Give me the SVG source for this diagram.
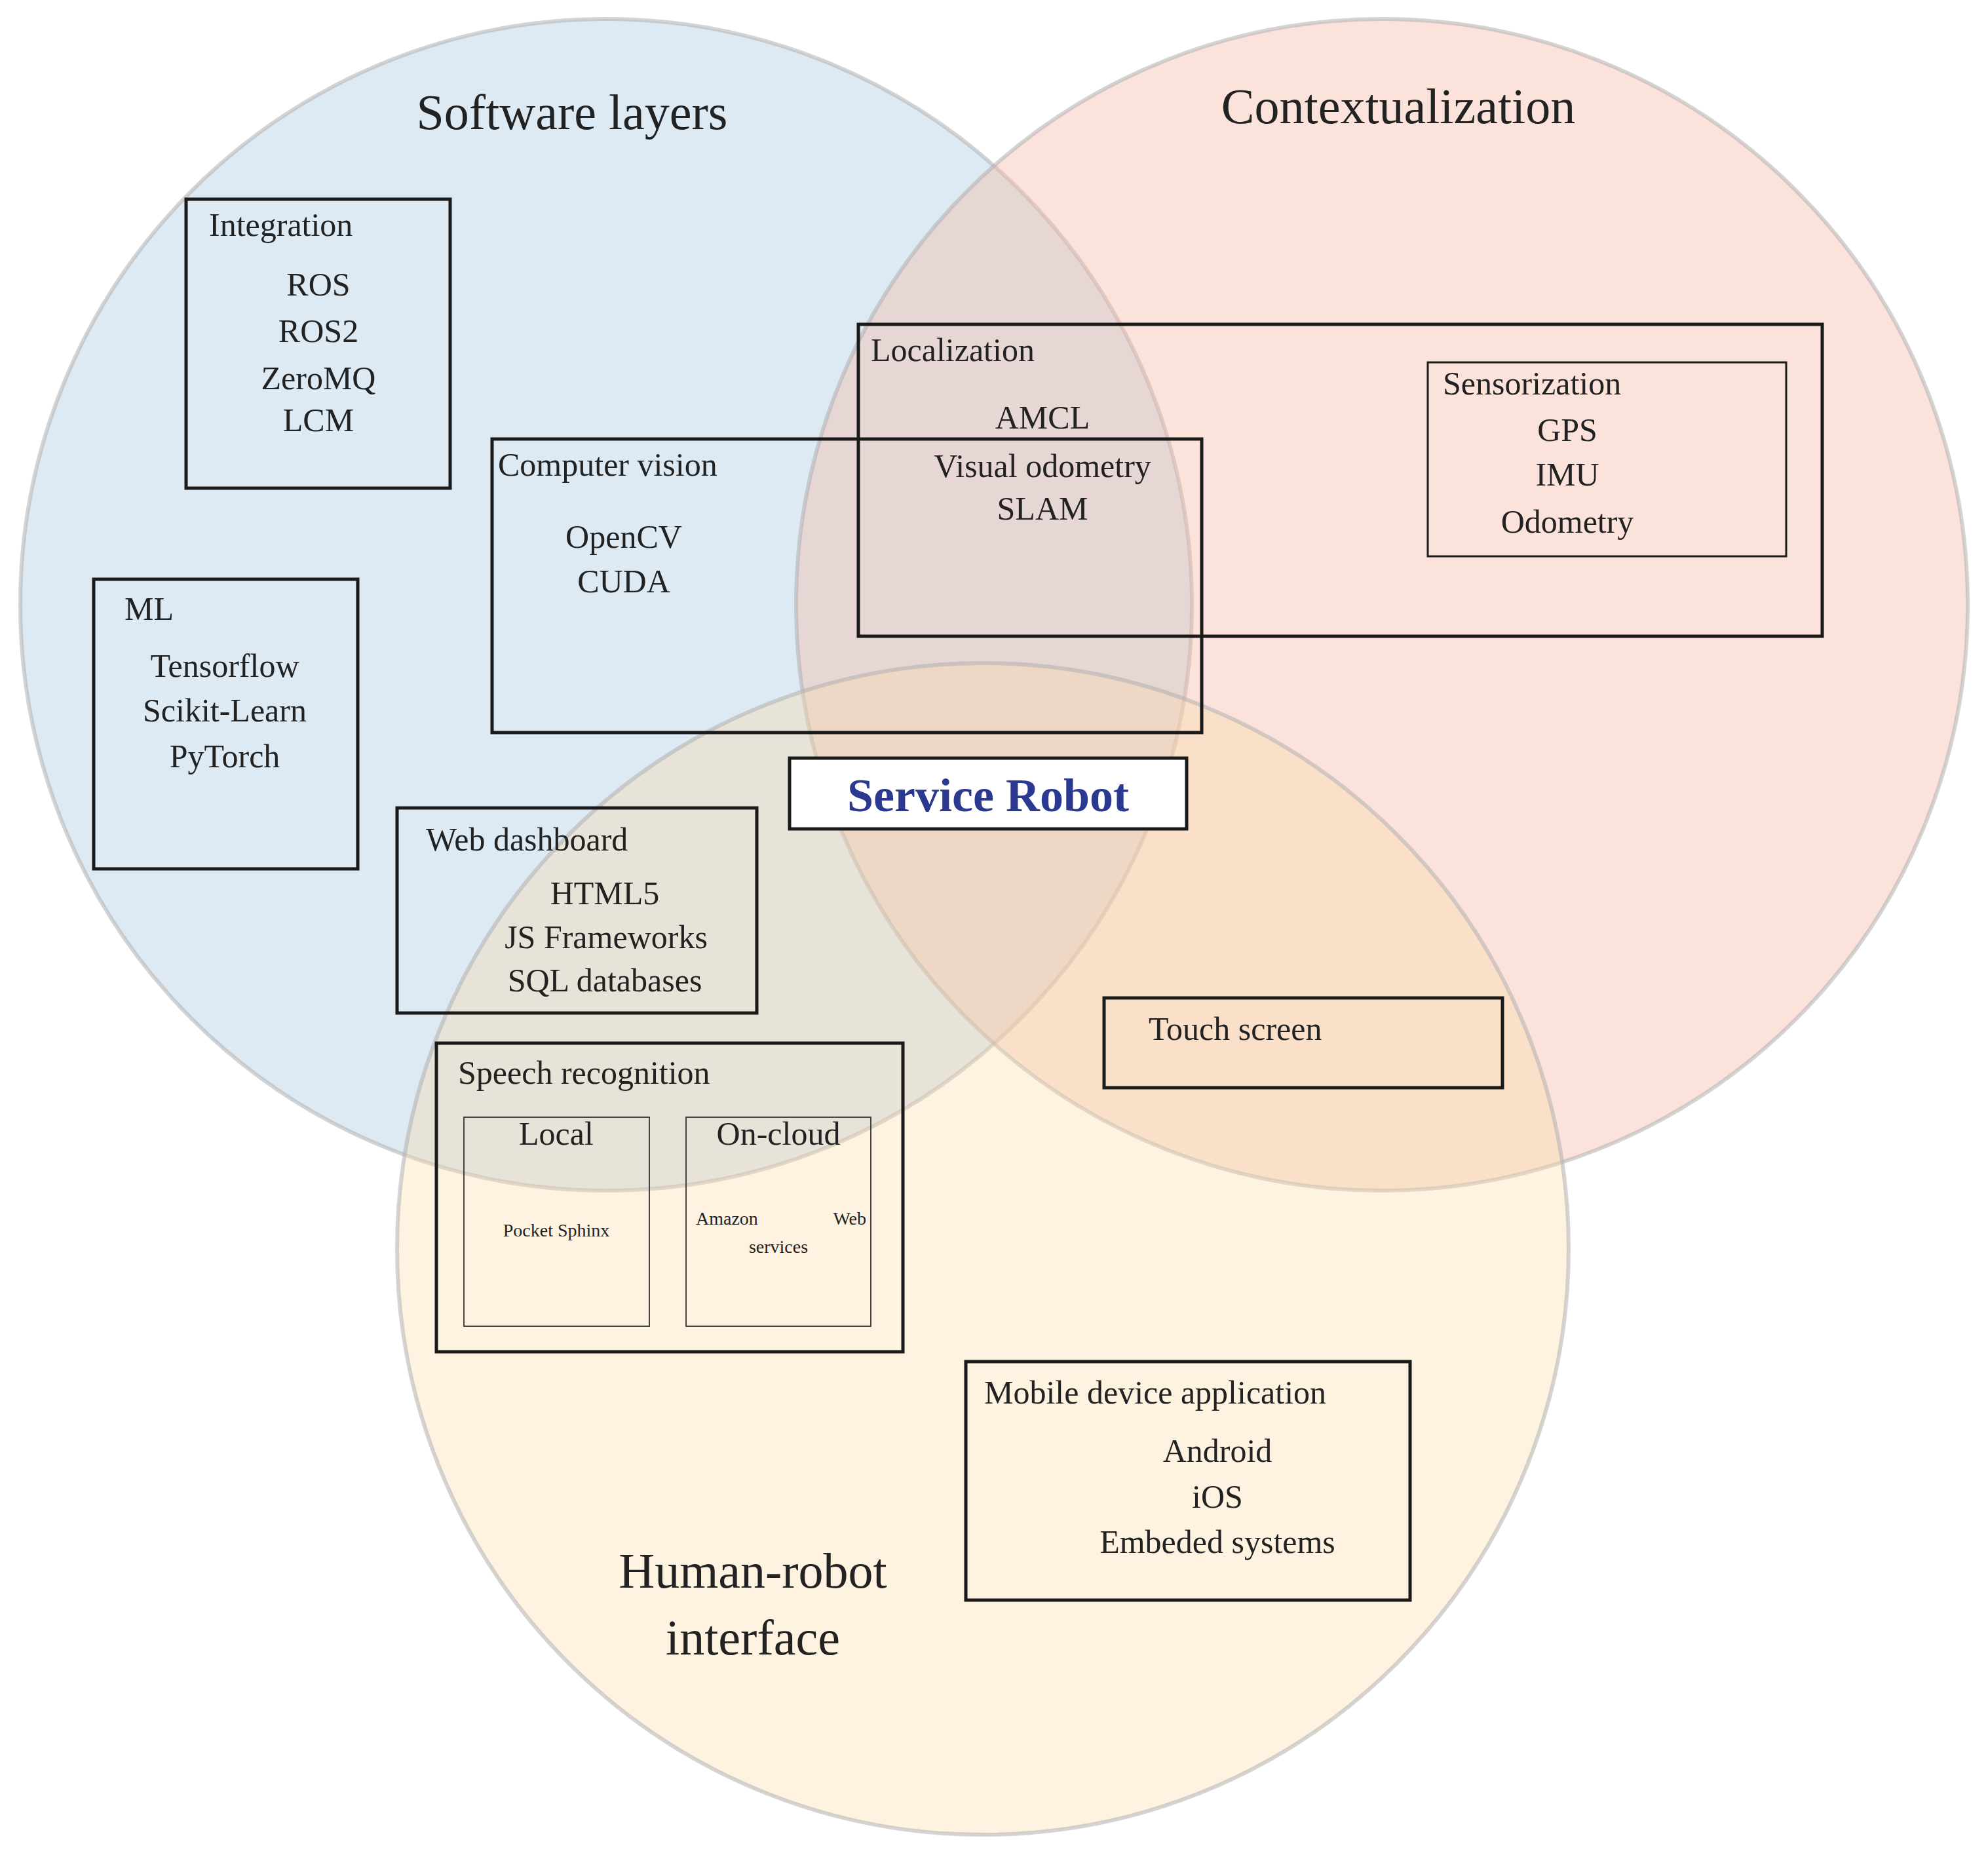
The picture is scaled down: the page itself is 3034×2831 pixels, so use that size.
<svg xmlns="http://www.w3.org/2000/svg" width="3034" height="2831" viewBox="0 0 3034 2831">
<style>
text{font-family:"Liberation Serif","DejaVu Serif",serif;fill:#222}
.c{stroke:#b0b0b0;stroke-width:6;stroke-opacity:0.55}
.b{fill:none;stroke:#1a1a1a;stroke-width:5}
.t{fill:none;stroke:#1a1a1a;stroke-width:3}
.s{fill:none;stroke:#333;stroke-width:1.8}
.h{font-size:76px;text-anchor:middle}
.l{font-size:50px}
.m{font-size:50px;text-anchor:middle}
.x{font-size:28px}
</style>
<rect width="3034" height="2831" fill="#fff"/>
<g id="circles">
<circle class="c" cx="925" cy="923" r="894" fill="#a9c8e2" fill-opacity="0.4"/>
<circle class="c" cx="2109" cy="923" r="894" fill="#f4b8a6" fill-opacity="0.4"/>
<circle class="c" cx="1500" cy="1906" r="894" fill="#fbd9a8" fill-opacity="0.35"/>
</g>
<g id="titles">
<text class="h" x="873" y="197">Software layers</text>
<text class="h" x="2134" y="188">Contextualization</text>
<text class="h" x="1149" y="2423">Human-robot</text>
<text class="h" x="1149" y="2525">interface</text>
</g>
<g id="integration"><rect class="b" x="284" y="304" width="403" height="441"/>
<text class="l" x="319" y="360">Integration</text>
<text class="m" x="486" y="451">ROS</text><text class="m" x="486" y="522">ROS2</text><text class="m" x="486" y="594">ZeroMQ</text><text class="m" x="486" y="658">LCM</text></g>
<g id="ml"><rect class="b" x="143" y="884" width="403" height="442"/>
<text class="l" x="190" y="946">ML</text>
<text class="m" x="343" y="1033">Tensorflow</text><text class="m" x="343" y="1101">Scikit-Learn</text><text class="m" x="343" y="1171">PyTorch</text></g>
<g id="cv"><rect class="b" x="751" y="670" width="1083" height="448"/>
<text class="l" x="760" y="726">Computer vision</text>
<text class="m" x="952" y="836">OpenCV</text><text class="m" x="952" y="904">CUDA</text></g>
<g id="localization"><rect class="b" x="1310" y="495" width="1471" height="476"/>
<text class="l" x="1329" y="551">Localization</text>
<text class="m" x="1591" y="654">AMCL</text><text class="m" x="1591" y="728">Visual odometry</text><text class="m" x="1591" y="793">SLAM</text></g>
<g id="sensorization"><rect class="t" x="2179" y="553" width="547" height="296"/>
<text class="l" x="2202" y="602">Sensorization</text>
<text class="m" x="2392" y="673">GPS</text><text class="m" x="2392" y="741">IMU</text><text class="m" x="2392" y="813">Odometry</text></g>
<g id="robot"><rect x="1205" y="1157" width="606" height="108" fill="#fff" stroke="#1a1a1a" stroke-width="5"/>
<text x="1508" y="1238" font-size="72" font-weight="bold" text-anchor="middle" style="fill:#2b3990">Service Robot</text></g>
<g id="web"><rect class="b" x="606" y="1233" width="549" height="313"/>
<text class="l" x="650" y="1298">Web dashboard</text>
<text class="m" x="923" y="1380">HTML5</text><text class="m" x="925" y="1447">JS Frameworks</text><text class="m" x="923" y="1513">SQL databases</text></g>
<g id="speech"><rect class="b" x="666" y="1592" width="712" height="471"/>
<text class="l" x="699" y="1654">Speech recognition</text></g>
<g id="local"><rect class="s" x="708" y="1705" width="283" height="319"/>
<text class="m" x="849" y="1747">Local</text>
<text class="x" x="849" y="1887" text-anchor="middle">Pocket Sphinx</text></g>
<g id="cloud"><rect class="s" x="1047" y="1705" width="282" height="319"/>
<text class="m" x="1188" y="1747">On-cloud</text>
<text class="x" x="1062" y="1869">Amazon</text><text class="x" x="1322" y="1869" text-anchor="end">Web</text>
<text class="x" x="1188" y="1912" text-anchor="middle">services</text></g>
<g id="touch"><rect class="b" x="1685" y="1523" width="608" height="137"/>
<text class="l" x="1753" y="1587">Touch screen</text></g>
<g id="mobile"><rect class="b" x="1474" y="2078" width="678" height="364"/>
<text class="l" x="1502" y="2142">Mobile device application</text>
<text class="m" x="1858" y="2231">Android</text><text class="m" x="1858" y="2301">iOS</text><text class="m" x="1858" y="2370">Embeded systems</text></g>
<g id="connectors"/>
</svg>
